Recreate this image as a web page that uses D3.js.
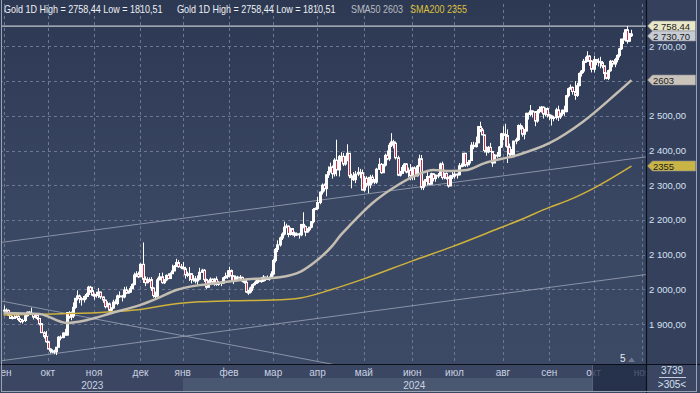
<!DOCTYPE html>
<html>
<head>
<meta charset="utf-8">
<script src="https://cdn.jsdelivr.net/npm/d3@7"></script>
<style>
body { margin: 0; background: #3a4660; }
svg { display: block; font-family: "Liberation Sans", Arial, sans-serif; }
</style>
</head>
<body>
<svg width="700" height="393"></svg>
<script>
// daily candles per month, rows: [day, open, high, low, close]
var sep23 = [[1,1940,1953,1936,1940],[4,1940,1945,1935,1939],[5,1939,1942,1923,1926],[6,1926,1930,1915,1916],[7,1916,1923,1913,1919],[8,1919,1926,1915,1919],[11,1919,1929,1917,1922],[12,1922,1926,1908,1913],[13,1913,1917,1903,1907],[14,1907,1915,1901,1910],[15,1910,1928,1906,1924],[18,1924,1936,1921,1934],[19,1934,1937,1927,1931],[20,1931,1947,1927,1930],[21,1930,1932,1913,1920],[22,1920,1930,1916,1925],[25,1925,1926,1911,1916],[26,1916,1917,1896,1901],[27,1901,1903,1874,1875],[28,1875,1879,1858,1864],[29,1864,1880,1846,1849]];
var oct23 = [[2,1849,1850,1827,1828],[3,1828,1830,1815,1822],[4,1822,1827,1816,1822],[5,1822,1826,1813,1820],[6,1820,1834,1810.51,1833],[9,1833,1865,1832,1862],[10,1862,1867,1853,1861],[11,1861,1876,1859,1874],[12,1874,1886,1866,1868],[13,1868,1934,1867,1933],[16,1933,1937,1915,1920],[17,1920,1936,1911,1923],[18,1923,1962,1917,1948],[19,1948,1975,1944,1974],[20,1974,1997,1968,1981],[23,1981,1985,1960,1973],[24,1973,1978,1953,1970],[25,1970,1982,1962,1979],[26,1979,1990,1971,1985],[27,1985,2010,1978,2006],[30,2006,2010,1990,1996],[31,1996,2007,1980,1983]];
var nov23 = [[1,1983,1988,1970,1982],[2,1982,1993,1976,1985],[3,1985,2004,1975,1992],[6,1992,1993,1972,1978],[7,1978,1979,1961,1969],[8,1969,1970,1945,1950],[9,1950,1965,1948,1958],[10,1958,1962,1932,1940],[13,1940,1948,1931,1946],[14,1946,1970,1944,1963],[15,1963,1971,1956,1959],[16,1959,1985,1954,1981],[17,1981,1994,1975,1981],[20,1981,1984,1965,1978],[21,1978,2007,1974,1998],[22,1998,2008,1986,1990],[23,1990,1997,1988,1992],[24,1992,2009,1990,2002],[27,2002,2017,2001,2014],[28,2014,2048,2011,2041],[29,2041,2052,2035,2044],[30,2044,2051,2032,2036]];
var dec23 = [[1,2036,2075,2035,2072],[4,2072,2135,2018,2029],[5,2029,2037,2009,2019],[6,2019,2035,2017,2025],[7,2025,2034,2021,2028],[8,2028,2035,1995,2004],[11,2004,2006,1976,1982],[12,1982,1993,1973,1980],[13,1980,2033,1979,2027],[14,2027,2047,2026,2036],[15,2036,2048,2016,2019],[18,2019,2029,2015,2027],[19,2027,2043,2023,2040],[20,2040,2046,2029,2031],[21,2031,2049,2030,2045],[22,2045,2071,2044,2053],[26,2053,2070,2052,2067],[27,2067,2088,2064,2077],[28,2077,2084,2062,2065],[29,2065,2073,2058,2063]];
var jan24 = [[2,2063,2079,2057,2059],[3,2059,2065,2031,2042],[4,2042,2051,2035,2043],[5,2043,2064,2024,2045],[8,2045,2047,2017,2028],[9,2028,2041,2022,2030],[10,2030,2038,2017,2024],[11,2024,2040,2013,2029],[12,2029,2062,2026,2049],[15,2049,2059,2047,2055],[16,2055,2058,2021,2028],[17,2028,2031,2001,2006],[18,2006,2026,2005,2023],[19,2023,2034,2016,2029],[22,2029,2031,2015,2021],[23,2021,2032,2010,2029],[24,2029,2037,2010,2014],[25,2014,2024,2010,2020],[26,2020,2022,2009,2018],[29,2018,2036,2016,2033],[30,2033,2048,2030,2037],[31,2037,2055,2030,2039]];
var feb24 = [[1,2039,2065,2034,2054],[2,2054,2057,2024,2039],[5,2039,2040,2015,2024],[6,2024,2040,2021,2035],[7,2035,2039,2026,2035],[8,2035,2041,2025,2034],[9,2034,2037,2020,2024],[12,2024,2026,2016,2020],[13,2020,2032,1990,1992],[14,1992,1998,1984,1992],[15,1992,2008,1988,2004],[16,2004,2016,1995,2013],[19,2013,2022,2011,2017],[20,2017,2031,2016,2024],[21,2024,2031,2018,2025],[22,2025,2035,2019,2024],[23,2024,2041,2022,2035],[26,2035,2036,2024,2031],[27,2031,2040,2028,2030],[28,2030,2037,2025,2034],[29,2034,2052,2031,2044]];
var mar24 = [[1,2044,2088,2040,2083],[4,2083,2119,2077,2115],[5,2115,2141,2107,2128],[6,2128,2152,2123,2148],[7,2148,2164,2142,2159],[8,2159,2195,2155,2179],[11,2179,2189,2176,2182],[12,2182,2184,2150,2158],[13,2158,2178,2155,2175],[14,2175,2176,2155,2162],[15,2162,2166,2150,2156],[18,2156,2164,2154,2160],[19,2160,2163,2146,2157],[20,2157,2188,2153,2187],[21,2187,2222,2176,2181],[22,2181,2184,2153,2165],[25,2165,2176,2163,2172],[26,2172,2180,2167,2179],[27,2179,2196,2176,2195],[28,2195,2234,2190,2230],[29,2230,2236,2228,2233]];
var apr24 = [[1,2233,2266,2229,2250],[2,2250,2282,2245,2280],[3,2280,2305,2273,2300],[4,2300,2305,2282,2290],[5,2290,2331,2268,2330],[8,2330,2354,2321,2339],[9,2339,2365,2336,2352],[10,2352,2357,2319,2333],[11,2333,2378,2325,2372],[12,2372,2431,2326,2344],[15,2344,2387,2325,2383],[16,2383,2395,2368,2383],[17,2383,2393,2355,2361],[18,2361,2385,2356,2379],[19,2379,2418,2369,2392],[22,2392,2392,2320,2327],[23,2327,2333,2291,2322],[24,2322,2338,2312,2316],[25,2316,2341,2306,2332],[26,2332,2352,2326,2337],[29,2337,2347,2320,2336],[30,2336,2345,2285,2286]];
var may24 = [[1,2286,2327,2281,2320],[2,2320,2326,2294,2303],[3,2303,2324,2277,2301],[6,2301,2330,2291,2323],[7,2323,2330,2305,2314],[8,2314,2318,2303,2309],[9,2309,2350,2304,2346],[10,2346,2378,2344,2360],[13,2360,2364,2333,2336],[14,2336,2362,2336,2358],[15,2358,2391,2354,2386],[16,2386,2400,2372,2376],[17,2376,2422,2370,2415],[20,2415,2450,2410,2425],[21,2425,2431,2406,2421],[22,2421,2426,2374,2379],[23,2379,2385,2326,2329],[24,2329,2341,2325,2334],[27,2334,2358,2333,2351],[28,2351,2364,2340,2361],[29,2361,2364,2334,2338],[30,2338,2351,2322,2343],[31,2343,2361,2314,2327]];
var jun24 = [[3,2327,2353,2315,2350],[4,2350,2354,2315,2327],[5,2327,2358,2325,2355],[6,2355,2388,2355,2376],[7,2376,2387,2287,2294],[10,2294,2313,2286,2311],[11,2311,2318,2298,2316],[12,2316,2342,2300,2325],[13,2325,2328,2300,2303],[14,2303,2336,2302,2333],[17,2333,2334,2311,2319],[18,2319,2331,2310,2329],[19,2329,2335,2320,2328],[20,2328,2365,2327,2361],[21,2361,2368,2316,2322],[24,2322,2336,2317,2334],[25,2334,2337,2316,2320],[26,2320,2325,2293,2298],[27,2298,2330,2297,2327],[28,2327,2338,2318,2326]];
var jul24 = [[1,2326,2339,2319,2332],[2,2332,2334,2319,2330],[3,2330,2364,2328,2356],[4,2356,2363,2353,2356],[5,2356,2392,2353,2392],[8,2392,2393,2353,2359],[9,2359,2367,2353,2364],[10,2364,2373,2357,2371],[11,2371,2424,2370,2415],[12,2415,2425,2404,2411],[15,2411,2440,2409,2422],[16,2422,2469,2421,2469],[17,2469,2483,2453,2459],[18,2459,2465,2444,2445],[19,2445,2446,2394,2400],[22,2400,2412,2385,2396],[23,2396,2413,2392,2409],[24,2409,2422,2397,2397],[25,2397,2399,2353,2364],[26,2364,2390,2364,2387],[29,2387,2396,2379,2384],[30,2384,2413,2381,2410],[31,2410,2451,2407,2448]];
var aug24 = [[1,2448,2470,2430,2446],[2,2446,2477,2411,2443],[5,2443,2461,2364,2410],[6,2410,2420,2385,2390],[7,2390,2404,2378,2382],[8,2382,2428,2381,2427],[9,2427,2437,2418,2431],[12,2431,2475,2428,2472],[13,2472,2478,2460,2465],[14,2465,2472,2440,2447],[15,2447,2462,2432,2456],[16,2456,2509,2455,2507],[19,2507,2510,2489,2504],[20,2504,2531,2499,2514],[21,2514,2516,2495,2512],[22,2512,2512,2470,2485],[23,2485,2518,2480,2512],[26,2512,2527,2507,2518],[27,2518,2528,2509,2525],[28,2525,2527,2492,2505],[29,2505,2524,2498,2521],[30,2521,2524,2495,2503]];
var sep24 = [[2,2503,2505,2488,2500],[3,2500,2503,2472,2493],[4,2493,2500,2484,2495],[5,2495,2523,2489,2517],[6,2517,2529,2485,2497],[9,2497,2509,2491,2506],[10,2506,2518,2500,2516],[11,2516,2529,2500,2512],[12,2512,2560,2510,2558],[13,2558,2581,2553,2578],[16,2578,2590,2575,2582],[17,2582,2584,2561,2570],[18,2570,2600,2546,2559],[19,2559,2595,2554,2587],[20,2587,2625,2585,2622],[23,2622,2632,2613,2629],[24,2629,2664,2623,2657],[25,2657,2670,2652,2657],[26,2657,2686,2655,2672],[27,2672,2675,2644,2658],[30,2658,2660,2625,2634]];
var oct24 = [[1,2634,2673,2625,2662],[2,2662,2664,2646,2657],[3,2657,2666,2642,2656],[4,2656,2670,2637,2653],[7,2653,2658,2637,2644],[8,2644,2645,2604,2622],[9,2622,2625,2605,2608],[10,2608,2633,2603,2630],[11,2630,2661,2627,2657],[14,2657,2660,2640,2649],[15,2649,2667,2640,2662],[16,2662,2677,2654,2674],[17,2674,2696,2668,2693],[18,2693,2722,2690,2721],[21,2721,2740,2707,2720],[22,2720,2749,2714,2748],[23,2748,2758.44,2708,2715],[24,2715,2738,2713,2736],[25,2736,2748,2727,2730.70]];

var monthRows = [sep23, oct23, nov23, dec23, jan24, feb24, mar24, apr24, may24, jun24, jul24, aug24, sep24, oct24];
var monthStarts = ["2023-09","2023-10","2023-11","2023-12","2024-01","2024-02","2024-03","2024-04","2024-05","2024-06","2024-07","2024-08","2024-09","2024-10"];
var monthLabels = ["сен","окт","ноя","дек","янв","фев","мар","апр","май","июн","июл","авг","сен","окт","ноя"];
var yearLabels = ["2023","2024"];
var slotsToNov = 5; // empty trading-day slots after the last candle up to 1 Nov

// moving averages: [date, value]
var sma50 = [["2023-09-01",1932],["2023-09-26",1929],["2023-10-13",1903],["2023-10-27",1912],["2023-11-13",1931],["2023-12-01",1955],["2023-12-13",1974],["2023-12-27",1998],["2024-01-12",2012],["2024-01-23",2017],["2024-02-14",2029],["2024-03-06",2035],["2024-03-20",2051],["2024-03-28",2075],["2024-04-10",2125],["2024-04-16",2156],["2024-04-22",2182],["2024-05-07",2248],["2024-05-23",2300],["2024-06-05",2329],["2024-06-17",2344],["2024-06-27",2341],["2024-07-09",2344],["2024-07-19",2363],["2024-08-12",2387],["2024-09-02",2421],["2024-09-24",2483],["2024-10-16",2565],["2024-10-25",2603]];
var sma200 = [["2023-09-01",1926],["2023-09-22",1928],["2023-11-06",1933],["2023-11-28",1940],["2023-12-29",1960],["2024-01-12",1964],["2024-02-02",1967],["2024-03-01",1969],["2024-03-20",1975],["2024-04-09",1998],["2024-05-01",2030],["2024-06-03",2082],["2024-06-28",2123],["2024-07-29",2173],["2024-08-14",2202],["2024-09-02",2236],["2024-09-16",2259],["2024-10-01",2291],["2024-10-25",2355]];

// drawn trend lines: two anchors each [date, price]
var trendLines = [
  [["2023-09-01",2136],["2024-10-25",2376]],
  [["2023-09-01",1795],["2024-10-25",2037]],
  [["2023-09-01",1965],["2024-04-02",1791]]
];
var hiValue = 2758.44, loValue = 1810.51, lastValue = 2730.70;
var priceTicks = [1900, 2000, 2100, 2200, 2300, 2400, 2500, 2600, 2700];

var svg = d3.select("svg"),
    width = +svg.attr("width"),
    height = +svg.attr("height"),
    plotRight = 646,
    plotBottom = 364;

var fmtDay = d3.timeFormat("%Y-%m-%d");
var ru = d3.formatLocale({decimal: ",", thousands: "\u00a0", grouping: [3], currency: ["", ""]});
var fmtPrice = ru.format(",.2f");

var data = [];
monthRows.forEach(function(rows, k) {
  var p = monthStarts[k].split("-");
  rows.forEach(function(r) {
    data.push({date: new Date(+p[0], +p[1] - 1, r[0]), open: r[1], high: r[2], low: r[3], close: r[4], month: k});
  });
});
data.forEach(function(d, i) { d.i = i; d.key = fmtDay(d.date); });
var byKey = {};
data.forEach(function(d) { byKey[d.key] = d.i; });

var lastIdx = data.length - 1;
var x = d3.scaleLinear().domain([0, lastIdx + slotsToNov]).range([3.5, 642]);
var y = d3.scaleLinear().domain([1900, 2700]).range([324, 46.4]);

// month tick positions
var monthTicks = monthStarts.map(function(m, k) {
  return {label: monthLabels[k], i: data.find(function(d) { return d.month === k; }).i};
});
monthTicks.push({label: monthLabels[monthLabels.length - 1], i: lastIdx + slotsToNov});

var defs = svg.append("defs");
var grad = defs.append("linearGradient").attr("id", "bg").attr("x1", 0).attr("y1", 0).attr("x2", 0).attr("y2", 1);
grad.append("stop").attr("offset", "0%").attr("stop-color", "#2d3953");
grad.append("stop").attr("offset", "55%").attr("stop-color", "#3a4763");
grad.append("stop").attr("offset", "100%").attr("stop-color", "#3d4a66");
defs.append("clipPath").attr("id", "plotClip").append("rect")
  .attr("x", 2).attr("y", 0).attr("width", plotRight - 2).attr("height", plotBottom);
defs.append("clipPath").attr("id", "axisClip").append("rect")
  .attr("x", 2).attr("y", plotBottom).attr("width", plotRight - 2).attr("height", height - plotBottom);

// backgrounds
svg.append("rect").attr("width", width).attr("height", height).attr("fill", "url(#bg)");
svg.append("rect").attr("x", plotRight).attr("y", 0).attr("width", width - plotRight).attr("height", plotBottom).attr("fill", "#35415c");
svg.append("rect").attr("x", 0).attr("y", plotBottom).attr("width", width).attr("height", height - plotBottom).attr("fill", "#3b4762");

var plot = svg.append("g").attr("clip-path", "url(#plotClip)");

// grid
plot.append("g").selectAll("line").data(priceTicks).enter().append("line")
  .attr("x1", 0).attr("x2", plotRight)
  .attr("y1", function(d) { return Math.round(y(d)) + 0.5; })
  .attr("y2", function(d) { return Math.round(y(d)) + 0.5; })
  .attr("stroke", "#6c7893").attr("stroke-dasharray", "3,3");
plot.append("g").selectAll("line").data(monthTicks).enter().append("line")
  .attr("x1", function(d) { return Math.round(x(d.i)) + 0.5; })
  .attr("x2", function(d) { return Math.round(x(d.i)) + 0.5; })
  .attr("y1", 4).attr("y2", plotBottom)
  .attr("stroke", "#6c7893").attr("stroke-dasharray", "3,3");

// trend lines, extended across the plot
trendLines.forEach(function(t) {
  var x0 = x(byKey[t[0][0]]), y0 = y(t[0][1]);
  var x1 = x(byKey[t[1][0]]), y1 = y(t[1][1]);
  var k = (y1 - y0) / (x1 - x0);
  plot.append("line")
    .attr("x1", 0).attr("y1", y0 - k * x0)
    .attr("x2", plotRight).attr("y2", y0 + k * (plotRight - x0))
    .attr("stroke", "#97a0b2").attr("stroke-width", 1).attr("opacity", 0.85);
});

// high level line
plot.append("line")
  .attr("x1", 0).attr("x2", plotRight)
  .attr("y1", y(hiValue)).attr("y2", y(hiValue))
  .attr("stroke", "#c3c8d1").attr("stroke-width", 1.2);

// candles
var candles = plot.append("g");
candles.selectAll("line").data(data).enter().append("line")
  .attr("x1", function(d) { return Math.round(x(d.i)) + 0.5; })
  .attr("x2", function(d) { return Math.round(x(d.i)) + 0.5; })
  .attr("y1", function(d) { return y(d.high); })
  .attr("y2", function(d) { return y(d.low); })
  .attr("stroke", "#ffffff").attr("stroke-width", 1);
candles.selectAll("rect").data(data).enter().append("rect")
  .attr("x", function(d) { return Math.round(x(d.i)) - 0.5; })
  .attr("width", 2)
  .attr("y", function(d) { return y(Math.max(d.open, d.close)); })
  .attr("height", function(d) { return Math.max(1, Math.abs(y(d.open) - y(d.close))); })
  .attr("fill", function(d) { return d.close < d.open ? "#c8304c" : "none"; })
  .attr("stroke", "#ffffff").attr("stroke-width", 1);

// moving averages
var maLine = d3.line()
  .x(function(d) { return x(byKey[d[0]]); })
  .y(function(d) { return y(d[1]); })
  .curve(d3.curveMonotoneX);
plot.append("path").datum(sma200).attr("d", maLine)
  .attr("fill", "none").attr("stroke", "#cfb23c").attr("stroke-width", 1.5);
plot.append("path").datum(sma50).attr("d", maLine)
  .attr("fill", "none").attr("stroke", "#c4bdb2").attr("stroke-width", 2.5);

// marker "5"
svg.append("text").attr("x", 620).attr("y", 362).attr("fill", "#e6e8ee").attr("font-size", 10).text("5");
svg.append("path").attr("d", "M628,362 L631.5,357.5 L635,362 Z").attr("fill", "#6d7891");

// header legends (narrow face: small size stretched vertically)
var headText = "Gold 1D High = " + ru.format(".2f")(hiValue) + " Low = " + ru.format(".2f")(loValue);
var heads = [
  {x: 4, text: headText, fill: "#eef0f4"},
  {x: 177, text: headText, fill: "#eef0f4"},
  {x: 351, text: "SMA50 " + sma50[sma50.length - 1][1], fill: "#b9bcc2"},
  {x: 410, text: "SMA200 " + sma200[sma200.length - 1][1], fill: "#dcc03c"}
];
svg.append("g").selectAll("text").data(heads).enter().append("text")
  .attr("transform", function(d) { return "translate(" + d.x + ",12.5) scale(1,1.2)"; })
  .attr("font-size", 9)
  .attr("fill", function(d) { return d.fill; })
  .text(function(d) { return d.text; });

// price tags
var tags = [
  {v: hiValue, text: fmtPrice(hiValue), fill: "#e9e7c9"},
  {v: lastValue, text: fmtPrice(lastValue), fill: "#c6cbd4"},
  {v: sma50[sma50.length - 1][1], text: String(sma50[sma50.length - 1][1]), fill: "#cac3bb"},
  {v: sma200[sma200.length - 1][1], text: String(sma200[sma200.length - 1][1]), fill: "#c9b545"}
];

// right price axis, labels hidden under a tag are skipped
var axisR = svg.append("g").attr("font-size", 9.5).attr("fill", "#d6e0f2");
axisR.selectAll("text").data(priceTicks.filter(function(t) {
    return !tags.some(function(g) { return Math.abs(y(g.v) - y(t)) < 8; });
  })).enter().append("text")
  .attr("x", 649).attr("y", function(d) { return y(d) + 3.5; })
  .text(function(d) { return fmtPrice(d); });

var tag = svg.append("g").selectAll("g").data(tags).enter().append("g")
  .attr("transform", function(d) { return "translate(0," + Math.round(y(d.v)) + ")"; });
tag.append("path")
  .attr("d", "M647.5,0 L652.5,-5 L695.5,-5 L695.5,5 L652.5,5 Z")
  .attr("fill", function(d) { return d.fill; })
  .attr("stroke", "#8d8f94").attr("stroke-width", 0.6);
tag.append("text")
  .attr("x", 653).attr("y", 3.5).attr("font-size", 9.5).attr("fill", "#1b1c20")
  .text(function(d) { return d.text; });

// bottom time axis
var xa = svg.append("g");
var janIdx = monthTicks[4].i;
xa.append("rect").attr("x", Math.round(x(janIdx))).attr("y", 378)
  .attr("width", 592 - Math.round(x(janIdx))).attr("height", 13).attr("fill", "#4a5771");
var xLab = xa.append("g").attr("clip-path", "url(#axisClip)").attr("font-size", 10).attr("fill", "#c9d1e2");
xLab.selectAll("text").data(monthTicks).enter().append("text")
  .attr("x", function(d) { return x(d.i); }).attr("y", 376)
  .attr("text-anchor", "middle")
  .text(function(d) { return d.label; });
var yearSpans = [[2, x(janIdx)], [x(janIdx), plotRight]];
xLab.selectAll("text.year").data(yearLabels).enter().append("text")
  .attr("class", "year")
  .attr("x", function(d, k) { return (yearSpans[k][0] + yearSpans[k][1]) / 2; })
  .attr("y", 389).attr("text-anchor", "middle")
  .text(function(d) { return d; });
// dark navigator box over the last part
xa.append("rect").attr("x", 592).attr("y", plotBottom).attr("width", plotRight - 592).attr("height", 27)
  .attr("fill", "#1f2a42").attr("opacity", 0.72);
xa.append("line").attr("x1", 592.5).attr("x2", 592.5).attr("y1", plotBottom).attr("y2", 391)
  .attr("stroke", "#56627b");

// corner box
var corner = svg.append("g").attr("font-size", 10).attr("fill", "#d6e0f2").attr("text-anchor", "middle");
corner.append("text").attr("x", 672).attr("y", 374).text("3739");
corner.append("line").attr("x1", 659).attr("x2", 686).attr("y1", 377.5).attr("y2", 377.5)
  .attr("stroke", "#c5cedd").attr("stroke-width", 1);
corner.append("text").attr("x", 672).attr("y", 388).text(">305<");

// separators and frame
svg.append("line").attr("x1", 0).attr("x2", width).attr("y1", plotBottom + 0.5).attr("y2", plotBottom + 0.5)
  .attr("stroke", "#0b0f18").attr("stroke-width", 1.2);
svg.append("line").attr("x1", plotRight + 0.5).attr("x2", plotRight + 0.5).attr("y1", 0).attr("y2", height)
  .attr("stroke", "#0b0f18").attr("stroke-width", 1.2);
svg.append("rect").attr("x", 1.5).attr("y", -1).attr("width", 695).attr("height", 392.5)
  .attr("fill", "none").attr("stroke", "#9aa3b5").attr("stroke-width", 1);
</script>
</body>
</html>
